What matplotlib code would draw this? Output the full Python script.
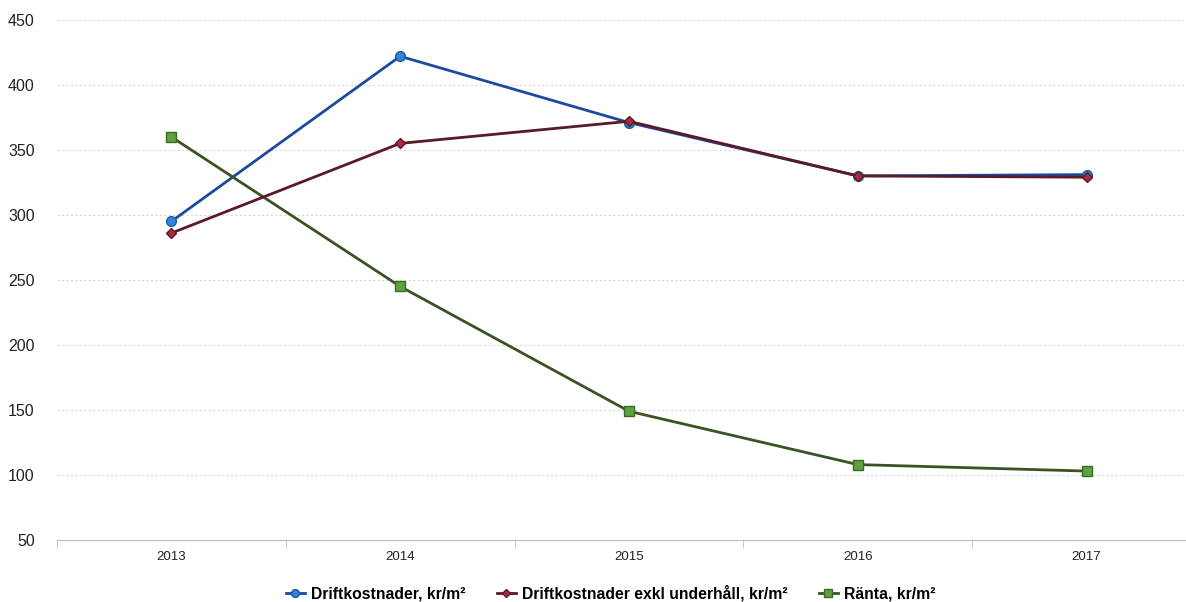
import matplotlib
matplotlib.use("Agg")
import matplotlib.pyplot as plt

years = ["2013", "2014", "2015", "2016", "2017"]
drift = [295, 422, 371, 330, 331]
drift_exkl = [286, 355, 372, 330, 329]
ranta = [360, 245, 149, 108, 103]

LABELS = [
    "Driftkostnader, kr/m²",
    "Driftkostnader exkl underhåll, kr/m²",
    "Ränta, kr/m²",
]

plt.rcParams["font.family"] = ["Liberation Sans", "DejaVu Sans"]

fig = plt.figure(figsize=(11.86, 6.02), dpi=100)
ax = fig.add_axes([0.048, 0.103, 0.955, 0.864])

x = list(range(len(years)))
ax.plot(x, drift, color="#1c4a9c", linewidth=2, marker="o", markersize=7,
        markerfacecolor="#2f86d6", markeredgecolor="#1c5a9c", label=LABELS[0], zorder=3)
ax.plot(x, drift_exkl, color="#5a1a26", linewidth=2, marker="D", markersize=5,
        markerfacecolor="#b0283c", markeredgecolor="#5a1a26", label=LABELS[1], zorder=4)
ax.plot(x, ranta, color="#3b5226", linewidth=2, marker="s", markersize=7,
        markerfacecolor="#5ea23e", markeredgecolor="#3b6a26", label=LABELS[2], zorder=3)

ax.set_ylim(50, 450)
ax.set_yticks(range(50, 451, 50))
ax.set_xlim(-0.5, 4.45)
ax.set_xticks(x)
ax.set_xticklabels(years)
ax.set_xticks([i - 0.5 for i in range(len(years))], minor=True)

ax.grid(axis="y", color="#d8d8d8", linestyle=(0, (2, 2)), linewidth=0.8)
ax.set_axisbelow(True)
for side in ["top", "right", "left"]:
    ax.spines[side].set_visible(False)
ax.spines["bottom"].set_color("#b8bcd0")
ax.spines["bottom"].set_linestyle((0, (2, 1)))

ax.tick_params(axis="y", length=0, labelsize=11.5, pad=16, labelcolor="#222222")
ax.tick_params(axis="x", which="major", length=0, labelsize=9.5, pad=8, labelcolor="#222222")
ax.tick_params(axis="x", which="minor", length=6, color="#b8bcd0")

fig.legend(loc="lower center", bbox_to_anchor=(0.515, -0.022), ncol=3, frameon=False,
           handlelength=1.2, handletextpad=0.4, columnspacing=2.0,
           markerscale=0.8, prop={"weight": "semibold", "size": 11.3})

fig.savefig("out.png", dpi=100)
